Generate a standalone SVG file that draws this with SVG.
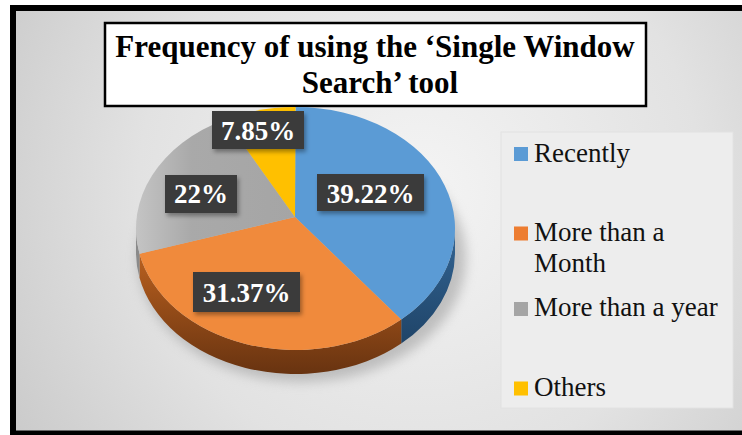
<svg xmlns="http://www.w3.org/2000/svg" width="742" height="435" viewBox="0 0 742 435">
  <defs>
    <radialGradient id="bg" cx="420" cy="190" r="470" gradientUnits="userSpaceOnUse">
      <stop offset="0" stop-color="#f4f4f4"/>
      <stop offset="0.6" stop-color="#e2e2e2"/>
      <stop offset="1" stop-color="#cbcbcb"/>
    </radialGradient>
    <linearGradient id="orangeSide" x1="0" y1="0" x2="0" y2="1">
      <stop offset="0" stop-color="#b9601f"/>
      <stop offset="1" stop-color="#683310"/>
    </linearGradient>
    <linearGradient id="blueSide" x1="0" y1="0" x2="0" y2="1">
      <stop offset="0" stop-color="#336594"/>
      <stop offset="1" stop-color="#1f4468"/>
    </linearGradient>
    <linearGradient id="grayTop" x1="0" y1="0" x2="1" y2="0">
      <stop offset="0" stop-color="#c4c4c4"/>
      <stop offset="0.35" stop-color="#a9a9a9"/>
      <stop offset="1" stop-color="#a5a5a5"/>
    </linearGradient>
    <filter id="blur" x="-20%" y="-20%" width="140%" height="140%">
      <feGaussianBlur stdDeviation="6"/>
    </filter>
    <filter id="shadow" x="-20%" y="-20%" width="140%" height="160%">
      <feDropShadow dx="2" dy="3" stdDeviation="2" flood-color="#000" flood-opacity="0.35"/>
    </filter>
  </defs>
  <style>
    .title { font-family: "Liberation Serif", "Times New Roman", serif; font-weight: bold; font-size: 31px; fill: #000; text-anchor: middle; }
    .lbl { font-family: "Liberation Serif", "Times New Roman", serif; font-weight: bold; font-size: 27px; fill: #fff; text-anchor: middle; }
    .lblbox { fill: #3a3a3a; filter: url(#shadow); }
    .leg { font-family: "Liberation Serif", "Times New Roman", serif; font-size: 27px; fill: #111; }
  </style>

  <!-- background and frame -->
  <rect x="13" y="8" width="740" height="425.5" fill="url(#bg)" stroke="#000" stroke-width="6"/>

  <!-- legend background -->
  <rect x="501" y="132" width="232" height="276" fill="#ededed" stroke="#e2e2e2" stroke-width="1"/>

  <!-- title -->
  <g id="title">
    <rect x="105" y="23" width="541" height="83" fill="#fff" stroke="#000" stroke-width="2.5"/>
    <text class="title" x="375" y="57">Frequency of using the ‘Single Window</text>
    <text class="title" x="380" y="93">Search’ tool</text>
  </g>

  <!-- pie shadow -->
  <ellipse cx="302" cy="258" rx="164" ry="124" fill="#9a9a9a" opacity="0.55" filter="url(#blur)"/>

  <!-- pie sides -->
  <g id="pie-sides">
    <path d="M455,228.5 A159.5,121.5 0 0 1 401.2,319.5 L401.2,343.5 A159.5,121.5 0 0 0 455,252.5 Z" fill="url(#blueSide)"/>
    <path d="M401.2,319.5 A159.5,121.5 0 0 1 139.5,253.8 L139.5,277.8 A159.5,121.5 0 0 0 401.2,343.5 Z" fill="url(#orangeSide)"/>
    <path d="M139.5,253.8 A159.5,121.5 0 0 1 136,228.5 L136,252.5 A159.5,121.5 0 0 0 139.5,277.8 Z" fill="#8a8a8a"/>
  </g>

  <!-- pie slices -->
  <g id="slice-recently">
    <path d="M295,217 L295.5,107 A159.5,121.5 0 0 1 401.2,319.5 Z" fill="#5b9bd5"/>
  </g>
  <g id="slice-month">
    <path d="M295,217 L401.2,319.5 A159.5,121.5 0 0 1 139.5,253.8 Z" fill="#f08a3c"/>
  </g>
  <g id="slice-year">
    <path d="M295,217 L139.5,253.8 A159.5,121.5 0 0 1 225.1,119.5 Z" fill="url(#grayTop)"/>
  </g>
  <g id="slice-others">
    <path d="M295,217 L225.1,119.5 A159.5,121.5 0 0 1 295.5,107 Z" fill="#ffc000"/>
  </g>

  <!-- connectors (none) -->
  <g id="connectors"/>

  <!-- data labels -->
  <g id="label-others">
    <rect class="lblbox" x="212" y="111" width="92" height="38"/>
    <text class="lbl" x="258" y="140">7.85%</text>
  </g>
  <g id="label-year">
    <rect class="lblbox" x="165" y="175" width="72" height="38"/>
    <text class="lbl" x="201" y="203">22%</text>
  </g>
  <g id="label-recently">
    <rect class="lblbox" x="317" y="174" width="107" height="37"/>
    <text class="lbl" x="370.5" y="203">39.22%</text>
  </g>
  <g id="label-month">
    <rect class="lblbox" x="193" y="272" width="107" height="40"/>
    <text class="lbl" x="246.5" y="302">31.37%</text>
  </g>

  <!-- legend -->
  <g id="legend-recently">
    <rect x="514" y="147" width="14" height="14" fill="#5b9bd5"/>
    <text class="leg" x="534" y="161.5">Recently</text>
  </g>
  <g id="legend-month">
    <rect x="514" y="226.5" width="14" height="14" fill="#ed7d31"/>
    <text class="leg" x="534" y="240.5">More than a</text>
    <text class="leg" x="534" y="272">Month</text>
  </g>
  <g id="legend-year">
    <rect x="514" y="302" width="14" height="14" fill="#a5a5a5"/>
    <text class="leg" x="534" y="316">More than a year</text>
  </g>
  <g id="legend-others">
    <rect x="514" y="381.5" width="14" height="14" fill="#ffc000"/>
    <text class="leg" x="534" y="395.5">Others</text>
  </g>
</svg>
